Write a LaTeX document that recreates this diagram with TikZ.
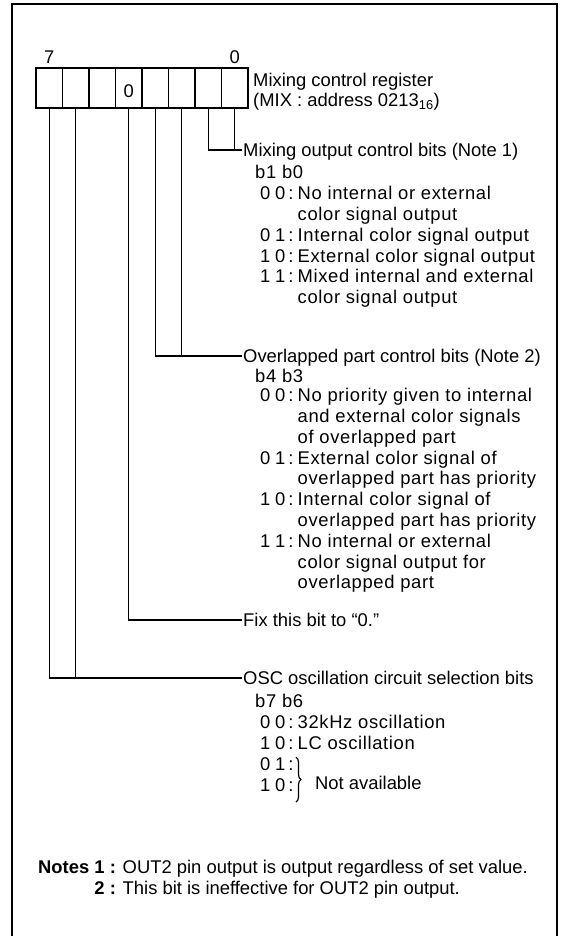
\documentclass[tikz,border=0pt]{standalone}
\usepackage{fontspec}
\setmainfont{Liberation Sans}
\newfontfamily\rowfont[LetterSpace=3.5]{Liberation Sans}
\usetikzlibrary{positioning,decorations.pathreplacing}

\newcommand{\bits}[2]{\makebox[37.5pt][l]{#1\hspace{4.8pt}#2\hspace{3pt}:}}
\newcommand{\cont}{\makebox[37.5pt]{}}

\begin{document}
\begin{tikzpicture}[
    x=1pt,y=-1pt,
    font=\fontsize{18.4}{20.8}\selectfont,
    frame/.style={line width=2.6pt},
    cell/.style={draw,line width=1.9pt,minimum width=26.5pt,minimum height=40pt,
      inner sep=0pt},
    wire/.style={line width=1.1pt},
    title/.style={anchor=west,inner xsep=1pt,inner ysep=0pt,
      text height=13.2pt,text depth=0pt},
    row/.style={anchor=base west,inner sep=0pt},
    desc/.style={row,font=\rowfont\fontsize{18.4}{20.8}\selectfont},
    lbl/.style={inner sep=0pt,text height=13.2pt,text depth=0pt}
  ]
    \useasboundingbox (0,0) rectangle (563,936);
    \draw[frame] (12,936) -- (12,4) -- (557,4) -- (557,936);

    % Register cells, bit 7 on the left.
    \foreach \b [count=\i from 0] in {7,6,...,0}
      \node[cell] (c\b) at (49.25+26.5*\i,88) {};
    \node[lbl,above=3pt of c7] (msb) {7};
    \node[lbl,above=3pt of c0] (lsb) {0};
    \node[lbl] (fixval) at ([yshift=-3pt]c4.center) {0};
    \node[row] (regname) at (253,86.6) {Mixing control register};
    \node[row] (regaddr) at (253,106.6) {(MIX : address 0213\textsubscript{16})};

    % Mixing output control bits.
    \node[title] (mixhead) at (242,150) {Mixing output control bits (Note 1)};
    \node[desc] (mixbits) at (255,178.6) {b1 b0};
    \foreach \t [count=\i from 0] in {
        \bits{0}{0}No internal or external,
        \cont color signal output,
        \bits{0}{1}Internal color signal output,
        \bits{1}{0}External color signal output,
        \bits{1}{1}Mixed internal and external,
        \cont color signal output}
      \node[desc] (mix\i) at (260,199.6+20.8*\i) {\t};
    \draw[wire] (c1.south) |- (mixhead.west);
    \draw[wire] (c0.south) -- (c0.south |- mixhead.west);

    % Overlapped part control bits.
    \node[title] (ovlhead) at (242,356) {Overlapped part control bits (Note 2)};
    \node[desc] (ovlbits) at (255,382.6) {b4 b3};
    \foreach \t [count=\i from 0] in {
        \bits{0}{0}No priority given to internal,
        \cont and external color signals,
        \cont of overlapped part,
        \bits{0}{1}External color signal of,
        \cont overlapped part has priority,
        \bits{1}{0}Internal color signal of,
        \cont overlapped part has priority,
        \bits{1}{1}No internal or external,
        \cont color signal output for,
        \cont overlapped part}
      \node[desc] (ovl\i) at (260,401.6+20.8*\i) {\t};
    \draw[wire] (c3.south) |- (ovlhead.west);
    \draw[wire] (c2.south) -- (c2.south |- ovlhead.west);

    % Fixed bit.
    \node[title] (fixhead) at (242,620) {Fix this bit to “0.”};
    \draw[wire] (c4.south) |- (fixhead.west);

    % OSC oscillation circuit selection bits.
    \node[title] (oschead) at (242,678) {OSC oscillation circuit selection bits};
    \node[desc] (oscbits) at (255,707.6) {b7 b6};
    \foreach \t [count=\i from 0] in {
        \bits{0}{0}32kHz oscillation,
        \bits{1}{0}LC oscillation,
        \bits{0}{1},
        \bits{1}{0}}
      \node[desc] (osc\i) at (260,728.6+20.8*\i) {\t};
    \node[row] (navail) at (315,789) {Not available};
    \draw[decorate,decoration={brace,amplitude=5pt},line width=1.2pt]
      ([xshift=36pt,yshift=13pt]osc2.base west) --
      ([xshift=36pt,yshift=-11pt]osc3.base west);
    \draw[wire] (c7.south) |- (oschead.west);
    \draw[wire] (c6.south) -- (c6.south |- oschead.west);

    % Notes.
    \node[row] (note1) at (38,873.6)
      {\textbf{Notes 1 :} OUT2 pin output is output regardless of set value.};
    \node[row] (note2) at (38,894.6)
      {\phantom{\textbf{Notes }}\textbf{2 :} This bit is ineffective for OUT2 pin output.};
  \end{tikzpicture}
\end{document}
